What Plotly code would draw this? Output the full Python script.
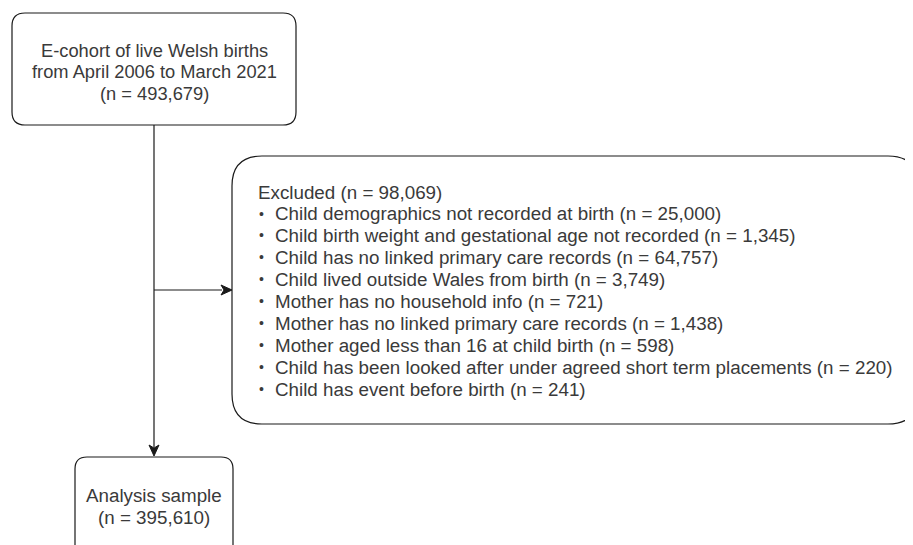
import plotly.graph_objects as go

W, H = 913, 545

top_lines = ["E-cohort of live Welsh births", "from April 2006 to March 2021", "(n = 493,679)"]
excl_title = "Excluded (n = 98,069)"
excl_items = [
    "Child demographics not recorded at birth (n = 25,000)",
    "Child birth weight and gestational age not recorded (n = 1,345)",
    "Child has no linked primary care records (n = 64,757)",
    "Child lived outside Wales from birth (n = 3,749)",
    "Mother has no household info (n = 721)",
    "Mother has no linked primary care records (n = 1,438)",
    "Mother aged less than 16 at child birth (n = 598)",
    "Child has been looked after under agreed short term placements (n = 220)",
    "Child has event before birth (n = 241)",
]
bottom_lines = ["Analysis sample", "(n = 395,610)"]

FONT = "Liberation Sans, Arial, sans-serif"
TXT = "#3a3a3a"
LINE = "#1a1a1a"
OFF = 8  # page body margin compensation


def rrect(x0, y0, x1, y1, r):
    return (f"M {x0+r},{y0} L {x1-r},{y0} Q {x1},{y0} {x1},{y0+r} "
            f"L {x1},{y1-r} Q {x1},{y1} {x1-r},{y1} L {x0+r},{y1} "
            f"Q {x0},{y1} {x0},{y1-r} L {x0},{y0+r} Q {x0},{y0} {x0+r},{y0} Z")


shapes = []
def add_path(p, fill=None, width=1.2):
    shapes.append(dict(type="path", path=p, xref="x", yref="y",
                       line=dict(color=LINE, width=width),
                       fillcolor=fill if fill else "rgba(0,0,0,0)"))

# boxes
add_path(rrect(12, 13, 296, 125, 13))
add_path(rrect(232, 156, 918, 424, 30))
add_path(rrect(75, 457, 233, 565, 12))

# connectors
cx = 154
shapes.append(dict(type="line", x0=cx, y0=125, x1=cx, y1=447, xref="x", yref="y",
                   line=dict(color=LINE, width=1.2)))
shapes.append(dict(type="line", x0=cx, y0=290, x1=222, y1=290, xref="x", yref="y",
                   line=dict(color=LINE, width=1.2)))
# arrowheads
add_path(f"M {cx},{456} L {cx-5},{445} L {cx},{448} L {cx+5},{445} Z", fill=LINE, width=1)
add_path(f"M 232,290 L 221,285 L 224,290 L 221,295 Z", fill=LINE, width=1)

ann = []
for i, t in enumerate(top_lines):
    ann.append(dict(x=cx, y=50 + i * 21.7, text=t, showarrow=False, xanchor="center",
                    yanchor="middle", font=dict(family=FONT, size=18.3, color=TXT)))
ann.append(dict(x=256, y=192, text=excl_title, showarrow=False, xanchor="left",
                yanchor="middle", font=dict(family=FONT, size=18.8, color=TXT)))
for i, t in enumerate(excl_items):
    y = 213.5 + i * 21.95
    ann.append(dict(x=257, y=y, text="\u2022", showarrow=False,
                    xanchor="left", yanchor="middle",
                    font=dict(family=FONT, size=14, color=TXT)))
    ann.append(dict(x=273, y=y, text=t, showarrow=False,
                    xanchor="left", yanchor="middle",
                    font=dict(family=FONT, size=18.8, color=TXT)))
for i, t in enumerate(bottom_lines):
    ann.append(dict(x=cx, y=495 + i * 22, text=t, showarrow=False, xanchor="center",
                    yanchor="middle", font=dict(family=FONT, size=18.8, color=TXT)))

fig = go.Figure()
fig.update_layout(
    width=W, height=H, margin=dict(l=0, r=0, t=0, b=0),
    paper_bgcolor="white", plot_bgcolor="white",
    xaxis=dict(range=[OFF, W + OFF], visible=False, fixedrange=True),
    yaxis=dict(range=[H + OFF, OFF], visible=False, fixedrange=True),
    shapes=shapes, annotations=ann, showlegend=False,
)
fig.write_html("out.html", config={"displayModeBar": False})
